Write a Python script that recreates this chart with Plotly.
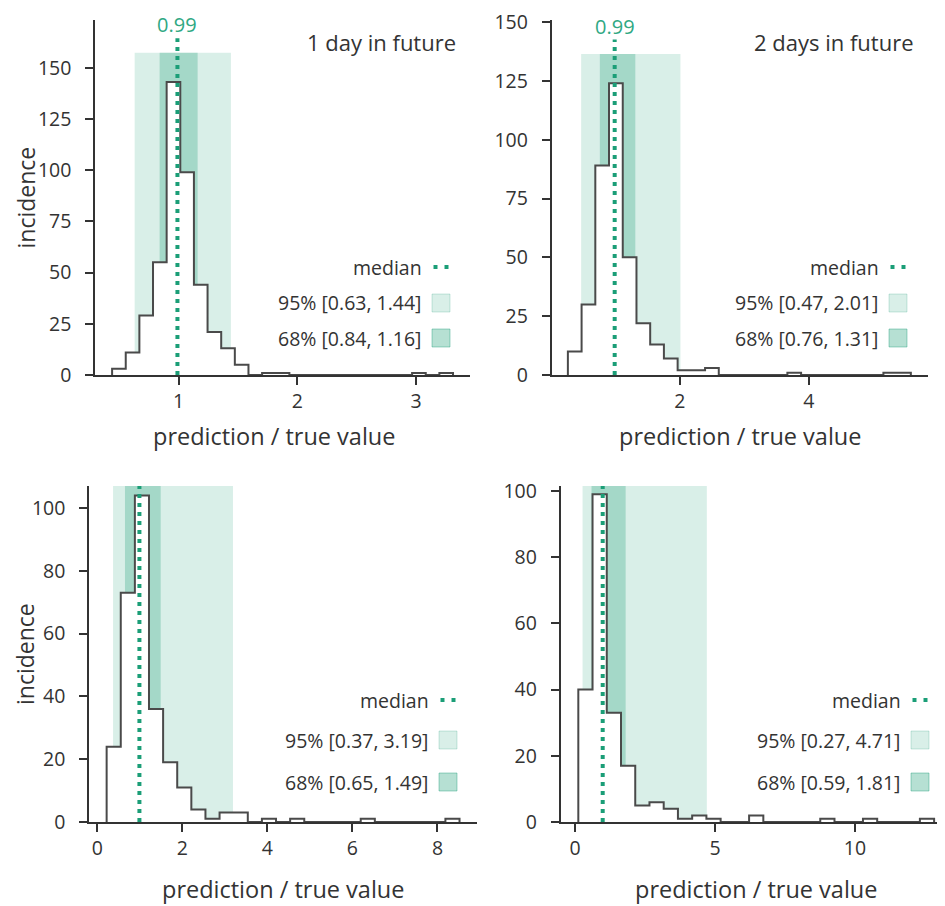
import numpy as np
import plotly.graph_objects as go

# page body adds an 8px margin; the figure is sized and positioned to compensate
OFF = 8
W, H = 945 - OFF, 906 - OFF

# ---------------- data ----------------
panel_titles = ["1 day in future", "2 days in future", "", ""]
n_bins = 25
bin_start = [0.44, 0.264, 0.219, 0.119]
bin_width = [0.1148, 0.2128, 0.332, 0.5083]
counts_1day = [3, 11, 29, 55, 143, 99, 44, 21, 13, 5, 0, 1, 1, 0, 0, 0, 0, 0, 0, 0, 0, 0, 1, 0, 1]
counts_2day = [10, 30, 89, 124, 50, 22, 13, 7, 2, 2, 3, 0, 0, 0, 0, 0, 1, 0, 0, 0, 0, 0, 0, 1, 1]
counts_3day = [24, 73, 104, 36, 19, 11, 4, 1, 3, 3, 0, 1, 0, 1, 0, 0, 0, 0, 1, 0, 0, 0, 0, 0, 1]
counts_4day = [40, 99, 33, 17, 5, 6, 4, 1, 2, 1, 0, 0, 2, 0, 0, 0, 0, 1, 0, 0, 1, 0, 0, 0, 1]
all_counts = [counts_1day, counts_2day, counts_3day, counts_4day]
medians = [0.99, 0.99, 0.99, 0.99]
median_labels = ["0.99", "0.99", "", ""]
ci95_lo = [0.63, 0.47, 0.37, 0.27]
ci95_hi = [1.44, 2.01, 3.19, 4.71]
ci68_lo = [0.84, 0.76, 0.65, 0.59]
ci68_hi = [1.16, 1.31, 1.49, 1.81]
x_ticks = [[1, 2, 3], [2, 4], [0, 2, 4, 6, 8], [0, 5, 10]]
y_ticks = [[0, 25, 50, 75, 100, 125, 150], [0, 25, 50, 75, 100, 125, 150],
           [0, 20, 40, 60, 80, 100], [0, 20, 40, 60, 80, 100]]

# ---------------- layout geometry (target screen pixels) ----------------
x_px = [(95, 470), (551.5, 928), (89, 477), (560.5, 945)]
y_px = [(20, 375), (20, 375), (486, 822), (486, 822)]
x_ranges = [[0.296, 3.453], [0.01, 5.85], [-0.196, 8.93], [-0.517, 13.215]]
y_ranges = [[0, 173.3], [0, 150.9], [0, 107], [0, 101.5]]
legend_rows = [(267, 303, 338), (267, 303, 338), (700, 740, 782), (700, 740, 782)]
legend_sq_right = [450, 907, 457, 929]
xtitle_x = [274, 740, 283, 756]


def px_x(p):
    return (p - OFF) / W


def px_y(p):
    return 1 - (p - OFF) / H


GREEN = "#1b9e77"
C95 = "rgba(27,158,119,0.17)"
C68 = "rgba(27,158,119,0.28)"
TXT = "#333333"
FONT = "Open Sans, Noto Sans, sans-serif"

fig = go.Figure()
layout = dict(
    width=W, height=H, margin=dict(l=0, r=0, t=0, b=0, autoexpand=False),
    paper_bgcolor="white", plot_bgcolor="white", showlegend=False,
    font=dict(family=FONT, color=TXT, size=19),
)
shapes, annotations = [], []

for i in range(4):
    sfx = "" if i == 0 else str(i + 1)
    xa, ya = "x" + sfx, "y" + sfx
    counts = all_counts[i]
    edges = bin_start[i] + bin_width[i] * np.arange(n_bins + 1)
    mx = max(counts)

    axis_common = dict(
        showgrid=False, zeroline=False, showline=True, linecolor=TXT, linewidth=1.5,
        ticks="outside", ticklen=8, tickwidth=1.5, tickcolor=TXT, automargin=False,
        ticklabeloverflow="allow",
        tickfont=dict(family=FONT, size=19.5, color=TXT),
    )
    layout["xaxis" + sfx] = dict(
        axis_common, domain=[max(0, px_x(x_px[i][0])), min(1, px_x(x_px[i][1]))], range=x_ranges[i],
        tickvals=x_ticks[i], anchor=ya, ticklabelstandoff=0,
    )
    layout["yaxis" + sfx] = dict(
        axis_common, domain=[px_y(y_px[i][1]), px_y(y_px[i][0])], range=y_ranges[i],
        tickvals=y_ticks[i], anchor=xa, ticklabelstandoff=10,
    )

    # confidence bands
    band_top = 1.1 * mx
    shapes.append(dict(type="rect", xref=xa, yref=ya, x0=ci95_lo[i], x1=ci95_hi[i], y0=0, y1=band_top,
                       fillcolor=C95, line=dict(width=0), layer="below"))
    shapes.append(dict(type="rect", xref=xa, yref=ya, x0=ci68_lo[i], x1=ci68_hi[i], y0=0, y1=band_top,
                       fillcolor=C68, line=dict(width=0), layer="below"))

    # histogram outline (step, filled white)
    hx = [edges[0]] + list(edges[:-1]) + [edges[-1]]
    hy = [0] + list(counts) + [0]
    fig.add_trace(go.Scatter(
        x=hx, y=hy, mode="lines", line=dict(color="#4a4a4a", width=2, shape="hv"),
        fill="tozeroy", fillcolor="white", xaxis=xa, yaxis=ya, hoverinfo="skip",
    ))

    # median line
    fig.add_trace(go.Scatter(
        x=[medians[i], medians[i]], y=[0, 1.15 * mx], mode="lines",
        line=dict(color=GREEN, width=4, dash="4px,5px"), xaxis=xa, yaxis=ya, hoverinfo="skip",
    ))
    if median_labels[i]:
        annotations.append(dict(x=medians[i], y=1.195 * mx, xref=xa, yref=ya, text=median_labels[i],
                                showarrow=False, xanchor="center", yanchor="middle",
                                font=dict(family=FONT, size=20, color="#2fa883")))
    if panel_titles[i]:
        annotations.append(dict(x=px_x(x_px[i][1] - 12), y=px_y(42), xref="paper", yref="paper",
                                text=panel_titles[i], showarrow=False, xanchor="right", yanchor="middle",
                                font=dict(family=FONT, size=22, color=TXT)))

    # legend
    sqR = legend_sq_right[i]
    sqL = sqR - 18
    r_med, r95, r68 = legend_rows[i]
    for row_y, label in [(r_med, "median"),
                         (r95, f"95% [{ci95_lo[i]:.2f}, {ci95_hi[i]:.2f}]"),
                         (r68, f"68% [{ci68_lo[i]:.2f}, {ci68_hi[i]:.2f}]")]:
        annotations.append(dict(x=px_x(sqL - 8), y=px_y(row_y), xref="paper", yref="paper", text=label,
                                showarrow=False, xanchor="right", yanchor="middle",
                                font=dict(family=FONT, size=19.5, color=TXT)))
    for dx0 in (1.5, 12.5):
        shapes.append(dict(type="rect", xref="paper", yref="paper",
                           x0=px_x(sqL + dx0), x1=px_x(sqL + dx0 + 4),
                           y0=px_y(r_med + 2), y1=px_y(r_med - 2),
                           fillcolor=GREEN, line=dict(width=0)))
    shapes.append(dict(type="rect", xref="paper", yref="paper",
                       x0=px_x(sqL), x1=px_x(sqR), y0=px_y(r95 + 9), y1=px_y(r95 - 9),
                       fillcolor=C95, line=dict(color="rgba(27,158,119,0.22)", width=1)))
    shapes.append(dict(type="rect", xref="paper", yref="paper",
                       x0=px_x(sqL), x1=px_x(sqR), y0=px_y(r68 + 9), y1=px_y(r68 - 9),
                       fillcolor="rgba(27,158,119,0.32)", line=dict(color="rgba(27,158,119,0.4)", width=1)))

    # axis titles
    xt_y = 436 if i < 2 else 889
    annotations.append(dict(x=px_x(xtitle_x[i]), y=px_y(xt_y), xref="paper", yref="paper",
                            text="prediction / true value", showarrow=False,
                            xanchor="center", yanchor="middle", font=dict(family=FONT, size=23.5, color=TXT)))
    if i in (0, 2):
        yc = (y_px[i][0] + y_px[i][1]) / 2
        annotations.append(dict(x=px_x(25), y=px_y(yc), xref="paper", yref="paper",
                                text="incidence", showarrow=False, textangle=-90,
                                xanchor="center", yanchor="middle", font=dict(family=FONT, size=23, color=TXT)))

layout["shapes"] = shapes
layout["annotations"] = annotations
fig.update_layout(**layout)
fig.write_html("out.html")
